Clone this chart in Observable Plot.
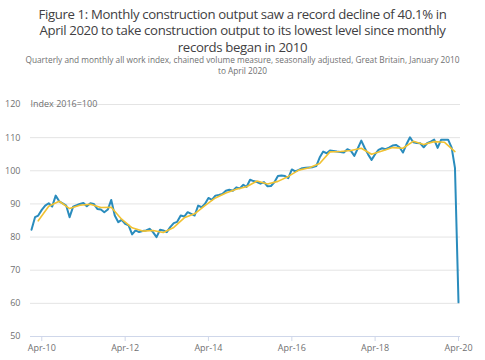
<!DOCTYPE html>
<html><head><meta charset="utf-8">
<script src="https://cdn.jsdelivr.net/npm/d3@7"></script>
<script src="https://cdn.jsdelivr.net/npm/@observablehq/plot@0.6"></script>
<style>
body{margin:0;background:#fff;font-family:"Open Sans",sans-serif;}
#wrap{position:relative;width:485px;height:360px;overflow:hidden;}
#title{position:absolute;top:5.5px;left:0;width:485px;text-align:center;font-size:13.2px;line-height:16.6px;letter-spacing:-0.35px;color:#414042;}
#sub{position:absolute;top:55px;left:0;width:485px;text-align:center;font-size:8.3px;line-height:10.5px;color:#707071;}
#chart{position:absolute;top:85px;left:0;}
</style></head>
<body><div id="wrap"><div id="title">Figure 1: Monthly construction output saw a record decline of 40.1% in<br>April 2020 to take construction output to its lowest level since monthly<br>records began in 2010</div><div id="sub">Quarterly and monthly all work index, chained volume measure, seasonally adjusted, Great Britain, January 2010<br>to April 2020</div><div id="chart"></div></div>
<script>
// Monthly all work index, Jan 2010 – Apr 2020 (2016=100)
const monthly = [
  82.2, 86.0, 86.5, 88.2, 89.5, 90.2, 89.2, 92.5, 90.8, 90.2, 89.5, 86.0,   // 2010
  89.2, 89.6, 90.0, 90.3, 89.3, 90.2, 90.0, 88.5, 88.3, 87.5, 88.3, 91.2,   // 2011
  86.5, 84.5, 85.2, 84.0, 83.5, 80.8, 82.0, 81.5, 81.8, 82.0, 82.5, 81.5,   // 2012
  80.0, 82.2, 82.0, 81.5, 83.0, 84.2, 84.6, 86.5, 86.2, 87.5, 87.0, 86.5,   // 2013
  89.5, 89.0, 90.0, 91.8, 91.2, 92.5, 92.7, 93.0, 94.0, 94.3, 94.0, 95.0,   // 2014
  94.7, 95.8, 95.1, 97.3, 96.9, 96.6, 96.1, 96.6, 95.3, 95.4, 96.6, 98.4,   // 2015
  98.6, 98.4, 97.8, 100.4, 99.8, 100.3, 100.8, 100.9, 101.0, 101.1, 101.4, 104.0, // 2016
  105.8, 105.3, 106.1, 106.0, 105.8, 105.7, 105.5, 106.5, 106.0, 104.5, 106.8, 109.1, // 2017
  106.8, 104.8, 103.3, 105.0, 106.3, 106.8, 106.5, 107.0, 107.6, 107.8, 107.1, 105.5, // 2018
  108.0, 110.1, 108.6, 108.4, 108.3, 107.1, 108.3, 108.8, 109.4, 106.9, 109.4, 109.4, // 2019
  109.4, 107.0, 100.9, 60.3                                                  // 2020
];
// Quarterly all work index, Q1 2010 – Q1 2020 (plotted at the quarter's last month)
const quarterly = [
  84.9, 89.3, 90.8, 88.6,
  89.6, 89.9, 88.9, 89.0,
  85.4, 82.8, 81.8, 82.0,
  81.4, 82.9, 85.8, 87.0,
  89.5, 91.8, 93.3, 94.4,
  95.2, 96.9, 96.0, 96.8,
  98.3, 100.2, 100.9, 102.2,
  105.7, 105.8, 106.1, 106.8,
  105.0, 106.0, 107.0, 106.8,
  108.9, 107.9, 108.8, 108.6,
  105.8
];
const yTicks = [50, 60, 70, 80, 90, 100, 110, 120];
const xTickDates = ["2010-04-01", "2012-04-01", "2014-04-01", "2016-04-01", "2018-04-01", "2020-04-01"];
const xTickLabels = ["Apr-10", "Apr-12", "Apr-14", "Apr-16", "Apr-18", "Apr-20"];
const unitLabel = "Index 2016=100";

const start = new Date(Date.UTC(2010, 0, 1));
const monthlyData = monthly.map((v, i) => ({date: d3.utcMonth.offset(start, i), value: v}));
const qStart = new Date(Date.UTC(2010, 2, 1));
const quarterlyData = quarterly.map((v, i) => ({date: d3.utcMonth.offset(qStart, 3 * i), value: v}));
const xTicks = xTickDates.map(s => new Date(s + "T00:00:00Z"));
const labelMap = new Map(xTicks.map((d, i) => [+d, xTickLabels[i]]));

const chart = Plot.plot({
  width: 485,
  height: 275,
  marginLeft: 31,
  marginRight: 27,
  marginTop: 19,
  marginBottom: 24,
  style: {fontFamily: "'Open Sans', sans-serif", fontSize: "9px", color: "#707071", background: "white", overflow: "visible"},
  x: {type: "utc", domain: [monthlyData[0].date, monthlyData[monthlyData.length - 1].date]},
  y: {domain: [50, 120]},
  marks: [
    Plot.ruleY(yTicks.filter(d => d > 50), {stroke: "#e4e4e4", insetLeft: -1, insetRight: -2}),
    Plot.ruleY([50], {stroke: "#cfd7ea", insetLeft: -1, insetRight: -2}),
    Plot.axisY({ticks: yTicks, tickSize: 0, tickPadding: 11, label: null, fill: "#707071"}),
    Plot.axisX({ticks: xTicks, tickFormat: d => labelMap.get(+d), tickSize: 5, tickPadding: 3, label: null, stroke: "#cfd7ea", fill: "#707071"}),
    Plot.lineY(monthlyData, {x: "date", y: "value", stroke: "#2a8cbd", strokeWidth: 2}),
    Plot.lineY(quarterlyData, {x: "date", y: "value", stroke: "#f1c232", strokeWidth: 1.6}),
    Plot.text([unitLabel], {frameAnchor: "top-left", dx: -1, dy: -4, textAnchor: "start", fill: "#707071"})
  ]
});
document.getElementById("chart").appendChild(chart);
</script>
</body></html>
